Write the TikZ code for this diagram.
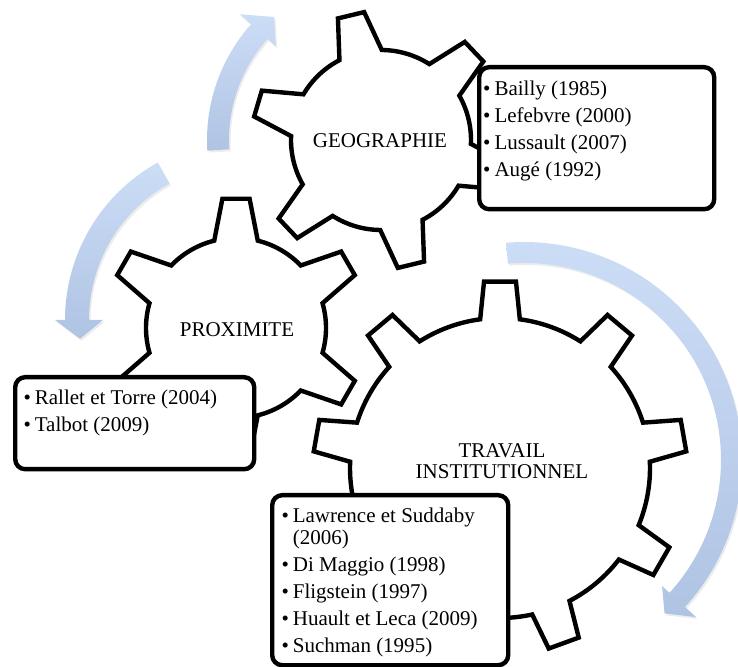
\documentclass[tikz,border=0pt]{standalone}
\usepackage{fontspec}
\setmainfont{Liberation Serif}
\usetikzlibrary{shadows}
\definecolor{arrowtop}{HTML}{CCDDF6}
\definecolor{arrowbot}{HTML}{AFC3E3}
\newcommand\reffont{\fontsize{21}{22}\selectfont}
\newcommand\gearfont{\fontsize{21}{21}\selectfont}
% #1 teeth, #2 first tooth angle, #3 root radius, #4 tip radius, #5 base half-angle, #6 tip half-angle
\newcommand\gearshape[6]{%
  \pgfmathsetmacro\gstep{360/#1}%
  \draw[gearline] ({#2-#5}:#3pt)
    \foreach \i [evaluate=\i as \a using #2+\gstep*(\i-1)] in {1,...,#1}{
      -- ({\a-#6}:#4pt) -- ({\a+#6}:#4pt) -- ({\a+#5}:#3pt)
      arc[start angle=\a+#5, end angle=\a+\gstep-#5, radius=#3pt]
    } -- cycle;}
\begin{document}
\begin{tikzpicture}[x=1pt,y=1pt,
  gearline/.style={draw=black, line width=4.4pt, fill=white, line join=miter},
  refbox/.style={draw=black, line width=4.4pt, fill=white, rounded corners=10pt,
    inner sep=0pt, anchor=north west},
  reftext/.style={inner sep=0pt, anchor=base west, font=\reffont},
  gearlabel/.style={inner sep=0pt, anchor=base, font=\gearfont},
  bluearrow/.style={top color=arrowtop, bottom color=arrowbot, draw=none,
    drop shadow={shadow xshift=1.5pt, shadow yshift=-2pt, opacity=0.15}}]
\useasboundingbox (0,0) rectangle (738,666);

% curved arrows
\begin{scope}[shift={(381,526)}]
\path[bluearrow] (183.5:152pt) arc[start angle=183.5, end angle=138.3, radius=152pt]
  -- (138.3:141pt) -- (131:163pt) -- (138.3:189pt) -- (138.3:174pt)
  arc[start angle=138.3, end angle=183.5, radius=174pt] -- cycle;
\end{scope}
\begin{scope}[shift={(245,346)}]
\path[bluearrow] (119:156pt) arc[start angle=119, end angle=180, radius=156pt]
  -- (180:142pt) -- (186.5:166pt) -- (180:190pt) -- (180:180pt)
  arc[start angle=180, end angle=119, radius=180pt] -- cycle;
\end{scope}
\begin{scope}[shift={(524,206)}]
\path[bluearrow] (94.7:197pt) arc[start angle=94.7, end angle=-42.4, radius=197pt]
  -- (-42.4:187pt) -- (-47.5:208pt) -- (-42.4:233pt) -- (-42.4:218pt)
  arc[start angle=-42.4, end angle=94.7, radius=218pt] -- cycle;
\end{scope}

% gears
\begin{scope}[shift={(381,526)}]
\coordinate (g1) at (0,0);
\gearshape{6}{103.5}{90}{129}{14}{6}
\end{scope}
\begin{scope}[shift={(236,338)}]
\coordinate (g2) at (0,0);
\gearshape{6}{90}{90}{130}{14}{6}
\end{scope}
\begin{scope}[shift={(500,198)}]
\coordinate (g3) at (0,0);
\gearshape{9}{90}{150}{187}{7.6}{4.9}
\end{scope}

\node[gearlabel] (geo) at (380,518) {GEOGRAPHIE};
\node[gearlabel] (prox) at (237,329) {PROXIMITE};
\node[gearlabel] (trav) at (502,208) {\begin{tabular}[t]{@{}c@{}}TRAVAIL\\INSTITUTIONNEL\end{tabular}};

% reference boxes
\node[refbox, minimum width=235pt, minimum height=142pt] (box1) at (477,601) {};
\node[reftext] (refs1) at (483,570) {\begin{tabular}[t]{@{}l@{\hspace{4pt}}l@{}}
\textbullet & Bailly (1985)\\[5pt]
\textbullet & Lefebvre (2000)\\[5pt]
\textbullet & Lussault (2007)\\[5pt]
\textbullet & Augé (1992)\end{tabular}};

\node[refbox, minimum width=239pt, minimum height=92pt] (box2) at (13,291) {};
\node[reftext] (refs2) at (23.3,261) {\begin{tabular}[t]{@{}l@{\hspace{4pt}}l@{}}
\textbullet & Rallet et Torre (2004)\\[5pt]
\textbullet & Talbot (2009)\end{tabular}};

\node[refbox, minimum width=236pt, minimum height=170pt] (box3) at (270,173) {};
\node[reftext] (refs3) at (281.3,143) {\begin{tabular}[t]{@{}l@{\hspace{4pt}}l@{}}
\textbullet & Lawrence et Suddaby\\
 & (2006)\\[5pt]
\textbullet & Di Maggio (1998)\\[5pt]
\textbullet & Fligstein (1997)\\[5pt]
\textbullet & Huault et Leca (2009)\\[5pt]
\textbullet & Suchman (1995)\end{tabular}};
\end{tikzpicture}
\end{document}
